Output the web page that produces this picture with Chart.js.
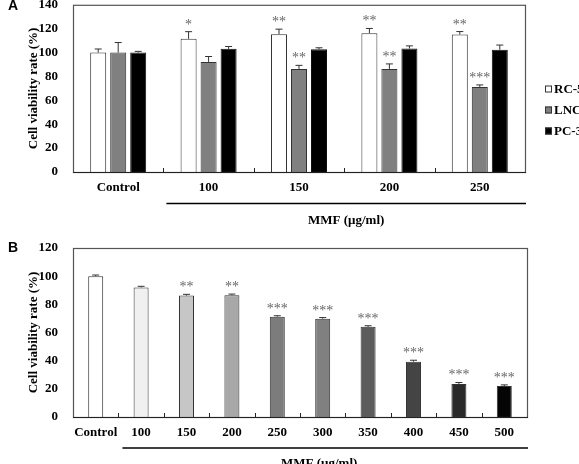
<!DOCTYPE html>
<html>
<head>
<meta charset="utf-8">
<script src="https://cdn.jsdelivr.net/npm/chart.js@4.4.1/dist/chart.umd.min.js"></script>
<style>
  html, body { margin: 0; padding: 0; background: #fff; overflow: hidden; }
  body { width: 579px; height: 464px; position: relative; }
  canvas { position: absolute; left: 0; }
  #chartA { top: -10px; }
  #chartB { top: 230px; }
  .panel { position: absolute; left: 8px; font: bold 14px 'Liberation Sans', Arial, sans-serif; color: #000; }
</style>
</head>
<body>
<canvas id="chartA" width="579" height="240"></canvas>
<canvas id="chartB" width="579" height="234"></canvas>
<div class="panel" style="top:-3px">A</div>
<div class="panel" style="top:239px">B</div>
<script>
// Panel A: three cell lines
const dosesA = ['Control', '100', '150', '200', '250'];
const rcValues = [100, 111.5, 115.4, 116.2, 115.1];
const rcErrors = [3, 6, 4.2, 4, 2.5];
const rcStars = ['', '*', '**', '**', '**'];
const lncValues = [100, 92.2, 86.3, 86.3, 71.2];
const lncErrors = [8.4, 4.5, 3, 4.2, 1.7];
const lncStars = ['', '', '**', '**', '***'];
const pcValues = [100, 103.1, 102.8, 103.4, 102.3];
const pcErrors = [1, 2, 1.2, 2.2, 4];
const pcStars = ['', '', '', '', ''];
const legendLabels = ['RC-58T/h/SA#4', 'LNCaP', 'PC-3'];

// Panel B: LNCaP, more doses
const dosesB = ['Control', '100', '150', '200', '250', '300', '350', '400', '450', '500'];
const valuesB = [100, 92, 86.2, 86.5, 71.2, 69.8, 64, 39.3, 23.5, 22];
const errorsB = [0.8, 0.8, 0.9, 0.8, 0.7, 0.8, 0.8, 1, 1, 0.8];
const starsB = ['', '', '**', '**', '***', '***', '***', '***', '***', '***'];
const coloursB = ['#ffffff', '#f0f0f0', '#c6c6c6', '#a8a8a8', '#7c7c7c', '#808080', '#5c5c5c', '#444444', '#2a2a2a', '#050505'];

const serif = "'Liberation Serif', 'Times New Roman', serif";

// error bars, stars, frame, tick marks, bracket line and legend
const extrasPlugin = {
  id: 'extras',
  afterDatasetsDraw(chart, args, opts) {
    const ctx = chart.ctx;
    const area = chart.chartArea;
    const xs = chart.scales.x;
    const ys = chart.scales.y;
    ctx.save();

    chart.data.datasets.forEach((ds, di) => {
      const meta = chart.getDatasetMeta(di);
      meta.data.forEach((bar, i) => {
        const topPx = ys.getPixelForValue(ds.data[i] + ds.errors[i]);
        ctx.strokeStyle = '#333';
        ctx.lineWidth = 1;
        ctx.beginPath();
        ctx.moveTo(bar.x, bar.y);
        ctx.lineTo(bar.x, topPx);
        ctx.moveTo(bar.x - 3.5, topPx);
        ctx.lineTo(bar.x + 3.5, topPx);
        ctx.stroke();
        if (ds.stars[i]) {
          ctx.fillStyle = '#666';
          ctx.font = '14px ' + serif;
          ctx.textAlign = 'center';
          ctx.textBaseline = 'alphabetic';
          ctx.fillText(ds.stars[i], bar.x, topPx - 3);
        }
      });
    });

    // frame
    ctx.strokeStyle = '#555';
    ctx.lineWidth = 1.2;
    ctx.strokeRect(area.left + 0.5, area.top + 0.5, area.width, area.height);
    ctx.strokeStyle = '#222';
    ctx.beginPath();
    ctx.moveTo(area.left, area.bottom + 0.5);
    ctx.lineTo(area.right + 1, area.bottom + 0.5);
    ctx.stroke();

    // small ticks between categories
    const n = chart.data.labels.length;
    ctx.lineWidth = 1;
    ctx.beginPath();
    for (let i = 1; i < n; i++) {
      const bx = Math.round((xs.getPixelForValue(i - 1) + xs.getPixelForValue(i)) / 2) + 0.5;
      ctx.moveTo(bx, area.bottom);
      ctx.lineTo(bx, area.bottom - 4);
    }
    ctx.stroke();

    // bracket under the doses
    const startX = (xs.getPixelForValue(0) + xs.getPixelForValue(1)) / 2 + opts.lineShift;
    const endX = area.right + 1;
    ctx.strokeStyle = '#000';
    ctx.lineWidth = 1.6;
    ctx.beginPath();
    ctx.moveTo(startX, area.bottom + opts.lineOffset);
    ctx.lineTo(endX, area.bottom + opts.lineOffset);
    ctx.stroke();
    ctx.fillStyle = '#000';
    ctx.font = 'bold 13px ' + serif;
    ctx.textAlign = 'center';
    ctx.textBaseline = 'middle';
    ctx.fillText('MMF (\u03bcg/ml)', (startX + endX) / 2 + opts.textShift, area.bottom + opts.textOffset);

    // legend
    if (opts.legend) {
      chart.data.datasets.forEach((ds, di) => {
        const cy = opts.legendY[di];
        ctx.fillStyle = ds.backgroundColor;
        ctx.fillRect(545, cy - 3.5, 7, 7);
        ctx.strokeStyle = '#333';
        ctx.lineWidth = 1;
        ctx.strokeRect(545.5, cy - 3, 6, 6);
        ctx.fillStyle = '#000';
        ctx.font = 'bold 13px ' + serif;
        ctx.textAlign = 'left';
        ctx.textBaseline = 'middle';
        ctx.fillText(ds.label, 554, cy + 1);
      });
    }
    ctx.restore();
  }
};

function makeScales(maxY, yWidth, xHeight) {
  return {
    x: {
      grid: { display: false },
      border: { display: false },
      ticks: { color: '#000', font: { family: serif, size: 13, weight: 'bold' }, padding: 0, maxRotation: 0, autoSkip: false },
      afterFit: (axis) => { axis.height = xHeight; }
    },
    y: {
      min: 0,
      max: maxY,
      grid: { display: false },
      border: { display: false },
      ticks: { stepSize: 20, color: '#000', font: { family: serif, size: 13, weight: 'bold' }, padding: 7 },
      title: {
        display: true,
        text: 'Cell viability rate (%)',
        color: '#000',
        font: { family: serif, size: 13, weight: 'bold' },
        padding: { top: 26, bottom: 0 }
      },
      afterFit: (axis) => { axis.width = yWidth; }
    }
  };
}

new Chart(document.getElementById('chartA'), {
  type: 'bar',
  data: {
    labels: dosesA,
    datasets: [
      { label: legendLabels[0], data: rcValues, errors: rcErrors, stars: rcStars, backgroundColor: '#ffffff', borderColor: '#333', borderWidth: 1 },
      { label: legendLabels[1], data: lncValues, errors: lncErrors, stars: lncStars, backgroundColor: '#808080', borderColor: '#333', borderWidth: 1 },
      { label: legendLabels[2], data: pcValues, errors: pcErrors, stars: pcStars, backgroundColor: '#000000', borderColor: '#111', borderWidth: 1 }
    ]
  },
  options: {
    responsive: false,
    animation: false,
    categoryPercentage: 0.664,
    barPercentage: 0.8,
    layout: { padding: { left: 0, top: 0, right: 54, bottom: 0 } },
    scales: makeScales(140, 73, 58),
    plugins: {
      legend: { display: false },
      tooltip: { enabled: false },
      extras: { lineShift: 3, lineOffset: 31.5, textOffset: 49, textShift: 0, legend: true, legendY: [99, 120, 141] }
    }
  },
  plugins: [extrasPlugin]
});

new Chart(document.getElementById('chartB'), {
  type: 'bar',
  data: {
    labels: dosesB,
    datasets: [
      { label: 'LNCaP', data: valuesB, errors: errorsB, stars: starsB, backgroundColor: coloursB, borderColor: '#333', borderWidth: 1 }
    ]
  },
  options: {
    responsive: false,
    animation: false,
    categoryPercentage: 1,
    barPercentage: 0.33,
    layout: { padding: { left: 0, top: 18, right: 52, bottom: 0 } },
    scales: makeScales(120, 73, 47),
    plugins: {
      legend: { display: false },
      tooltip: { enabled: false },
      extras: { lineShift: 4, lineOffset: 31, textOffset: 47, textShift: -6, legend: false }
    }
  },
  plugins: [extrasPlugin]
});
</script>
</body>
</html>
